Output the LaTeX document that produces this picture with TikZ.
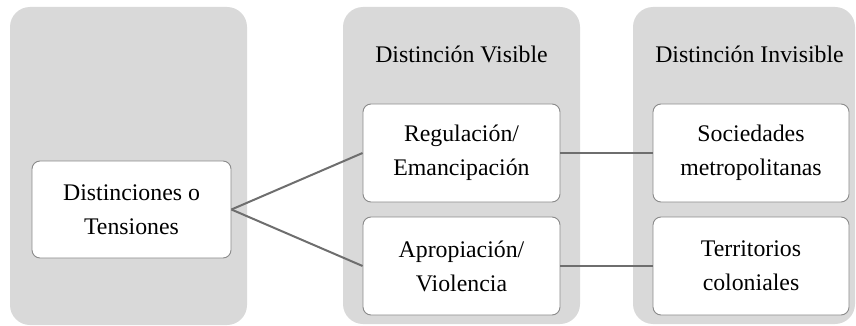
\documentclass[tikz,border=0pt]{standalone}
\usepackage{fontspec}
\setmainfont{Liberation Serif}
\definecolor{panelgray}{HTML}{D9D9D9}
\definecolor{boxline}{HTML}{8A8A8A}
\definecolor{connline}{HTML}{6E6E6E}
\tikzset{
  panel/.style={fill=panelgray, draw=none, rounded corners=20pt},
  itembox/.style={draw=boxline, line width=0.9pt, fill=white, rounded corners=8pt,
    minimum width=197pt, minimum height=98pt, align=center, inner sep=0pt,
    font=\fontsize{23.8}{34}\selectfont},
  paneltitle/.style={anchor=base, font=\fontsize{23.8}{34}\selectfont, inner sep=0pt},
  conn/.style={draw=connline, line width=2pt}
}
\begin{document}
\begin{tikzpicture}[x=1pt,y=-1pt]
\useasboundingbox (0,0) rectangle (856,326);
\path[panel] (10,7) rectangle (247,325);
\path[panel] (343,7) rectangle (580,324);
\path[panel] (633,7) rectangle (855,324);
\node[paneltitle] (t2) at (461.5,63) {Distinción Visible};
\node[paneltitle] (t3) at (749.5,63) {Distinción Invisible};
\node[itembox, minimum width=199pt, minimum height=97pt] (dist) at (131.5,209.5) {Distinciones o\\Tensiones};
\node[itembox] (reg) at (461.5,153) {Regulación/\\Emancipación};
\node[itembox] (apr) at (461.5,266) {Apropiación/\\Violencia};
\node[itembox, minimum width=196pt] (soc) at (751,153) {Sociedades\\metropolitanas};
\node[itembox, minimum width=196pt] (ter) at (751,266) {Territorios\\coloniales};
\draw[conn] (dist.east) -- (reg.west);
\draw[conn] (dist.east) -- (apr.west);
\draw[conn] (reg.east) -- (soc.west);
\draw[conn] (apr.east) -- (ter.west);
\end{tikzpicture}
\end{document}
